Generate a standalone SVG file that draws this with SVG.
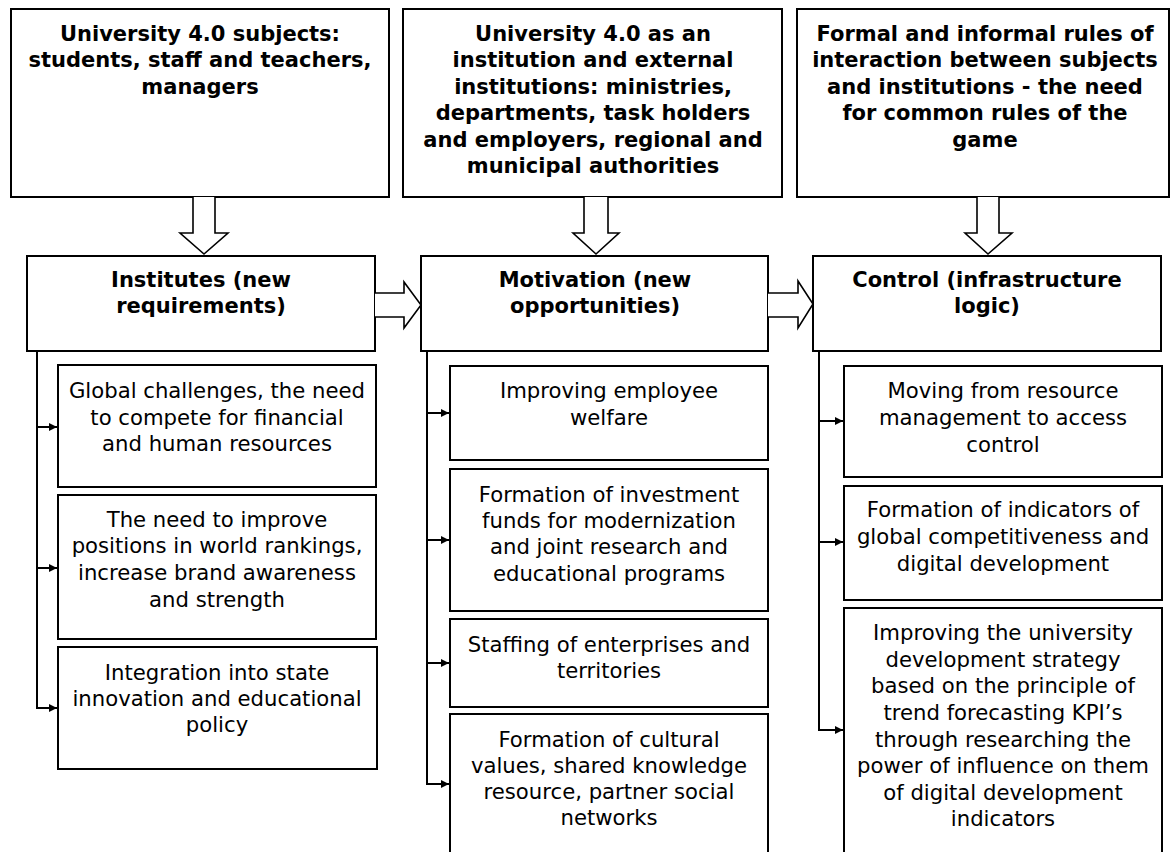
<svg xmlns="http://www.w3.org/2000/svg" width="1170" height="852" viewBox="0 0 1170 852">
<style>
.box{fill:#fff;stroke:#000;stroke-width:2}
.big{fill:#fff;stroke:#000;stroke-width:1.6}
.t{font-family:"DejaVu Sans",Verdana,sans-serif;font-size:21.2px;fill:#000;text-anchor:middle}
.b{font-weight:bold;font-size:21px}
.ln{fill:none;stroke:#000;stroke-width:2}
</style>
<defs>
<marker id="ah" viewBox="0 0 10 10" refX="10" refY="5" markerWidth="9" markerHeight="8" markerUnits="userSpaceOnUse" orient="auto">
<path d="M0,0 L10,5 L0,10 z" fill="#000"/>
</marker>
</defs>
<rect width="1170" height="852" fill="#fff"/>

<g id="top1">
<rect class="box" x="11" y="9" width="378" height="188"/>
<text class="t b" x="200" y="41">University 4.0 subjects:</text>
<text class="t b" x="200" y="67">students, staff and teachers,</text>
<text class="t b" x="200" y="94">managers</text>
</g>
<g id="top2">
<rect class="box" x="403" y="9" width="379" height="188"/>
<text class="t b" x="593" y="41">University 4.0 as an</text>
<text class="t b" x="593" y="67">institution and external</text>
<text class="t b" x="593" y="94">institutions: ministries,</text>
<text class="t b" x="593" y="120">departments, task holders</text>
<text class="t b" x="593" y="147">and employers, regional and</text>
<text class="t b" x="593" y="173">municipal authorities</text>
</g>
<g id="top3">
<rect class="box" x="797" y="9" width="372" height="188"/>
<text class="t b" x="985" y="41">Formal and informal rules of</text>
<text class="t b" x="985" y="67">interaction between subjects</text>
<text class="t b" x="985" y="94">and institutions - the need</text>
<text class="t b" x="985" y="120">for common rules of the</text>
<text class="t b" x="985" y="147">game</text>
</g>

<g id="mid1">
<rect class="box" x="27" y="256" width="348" height="95"/>
<text class="t b" x="201" y="287">Institutes (new</text>
<text class="t b" x="201" y="313">requirements)</text>
</g>
<g id="mid2">
<rect class="box" x="421" y="256" width="347" height="95"/>
<text class="t b" x="595" y="287">Motivation (new</text>
<text class="t b" x="595" y="313">opportunities)</text>
</g>
<g id="mid3">
<rect class="box" x="813" y="256" width="348" height="95"/>
<text class="t b" x="987" y="287">Control (infrastructure</text>
<text class="t b" x="987" y="313">logic)</text>
</g>

<g id="c1a">
<rect class="box" x="58" y="365" width="318" height="122"/>
<text class="t" x="217" y="398">Global challenges, the need</text>
<text class="t" x="217" y="425">to compete for financial</text>
<text class="t" x="217" y="451">and human resources</text>
</g>
<g id="c1b">
<rect class="box" x="58" y="495" width="318" height="144"/>
<text class="t" x="217" y="527">The need to improve</text>
<text class="t" x="217" y="553">positions in world rankings,</text>
<text class="t" x="217" y="580">increase brand awareness</text>
<text class="t" x="217" y="607">and strength</text>
</g>
<g id="c1c">
<rect class="box" x="58" y="647" width="319" height="122"/>
<text class="t" x="217" y="680">Integration into state</text>
<text class="t" x="217" y="706">innovation and educational</text>
<text class="t" x="217" y="732">policy</text>
</g>

<g id="c2a">
<rect class="box" x="450" y="366" width="318" height="94"/>
<text class="t" x="609" y="398">Improving employee</text>
<text class="t" x="609" y="425">welfare</text>
</g>
<g id="c2b">
<rect class="box" x="450" y="469" width="318" height="142"/>
<text class="t" x="609" y="502">Formation of investment</text>
<text class="t" x="609" y="528">funds for modernization</text>
<text class="t" x="609" y="554">and joint research and</text>
<text class="t" x="609" y="581">educational programs</text>
</g>
<g id="c2c">
<rect class="box" x="450" y="619" width="318" height="88"/>
<text class="t" x="609" y="652">Staffing of enterprises and</text>
<text class="t" x="609" y="678">territories</text>
</g>
<g id="c2d">
<rect class="box" x="450" y="714" width="318" height="160"/>
<text class="t" x="609" y="747">Formation of cultural</text>
<text class="t" x="609" y="773">values, shared knowledge</text>
<text class="t" x="609" y="799">resource, partner social</text>
<text class="t" x="609" y="825">networks</text>
</g>

<g id="c3a">
<rect class="box" x="844" y="366" width="318" height="111"/>
<text class="t" x="1003" y="398">Moving from resource</text>
<text class="t" x="1003" y="425">management to access</text>
<text class="t" x="1003" y="452">control</text>
</g>
<g id="c3b">
<rect class="box" x="844" y="486" width="318" height="114"/>
<text class="t" x="1003" y="517">Formation of indicators of</text>
<text class="t" x="1003" y="544">global competitiveness and</text>
<text class="t" x="1003" y="571">digital development</text>
</g>
<g id="c3c">
<rect class="box" x="844" y="608" width="318" height="270"/>
<text class="t" x="1003" y="640">Improving the university</text>
<text class="t" x="1003" y="667">development strategy</text>
<text class="t" x="1003" y="693">based on the principle of</text>
<text class="t" x="1003" y="720">trend forecasting KPI’s</text>
<text class="t" x="1003" y="747">through researching the</text>
<text class="t" x="1003" y="773">power of influence on them</text>
<text class="t" x="1003" y="800">of digital development</text>
<text class="t" x="1003" y="826">indicators</text>
</g>

<g id="connectors">
<path class="big" d="M193,197 V233 H180 L204,254 L228,233 H215 V197"/>
<path class="big" d="M584,197 V233 H573 L596,254 L619,233 H608 V197"/>
<path class="big" d="M977,197 V233 H965 L988,254 L1012,233 H999 V197"/>
<path class="big" d="M375,293 H404 V282 L421,305 L404,328 V317 H375"/>
<path class="big" d="M768,293 H798 V281 L813,304 L798,328 V317 H768"/>
<path class="ln" d="M37,351 V708"/>
<path class="ln" d="M36,427 H57" marker-end="url(#ah)"/>
<path class="ln" d="M36,568 H57" marker-end="url(#ah)"/>
<path class="ln" d="M36,708 H57" marker-end="url(#ah)"/>
<path class="ln" d="M427,351 V784"/>
<path class="ln" d="M426,413 H449" marker-end="url(#ah)"/>
<path class="ln" d="M426,540 H449" marker-end="url(#ah)"/>
<path class="ln" d="M426,663 H449" marker-end="url(#ah)"/>
<path class="ln" d="M426,784 H449" marker-end="url(#ah)"/>
<path class="ln" d="M819,351 V730"/>
<path class="ln" d="M818,421 H843" marker-end="url(#ah)"/>
<path class="ln" d="M818,542 H843" marker-end="url(#ah)"/>
<path class="ln" d="M818,730 H843" marker-end="url(#ah)"/>
</g>
</svg>
